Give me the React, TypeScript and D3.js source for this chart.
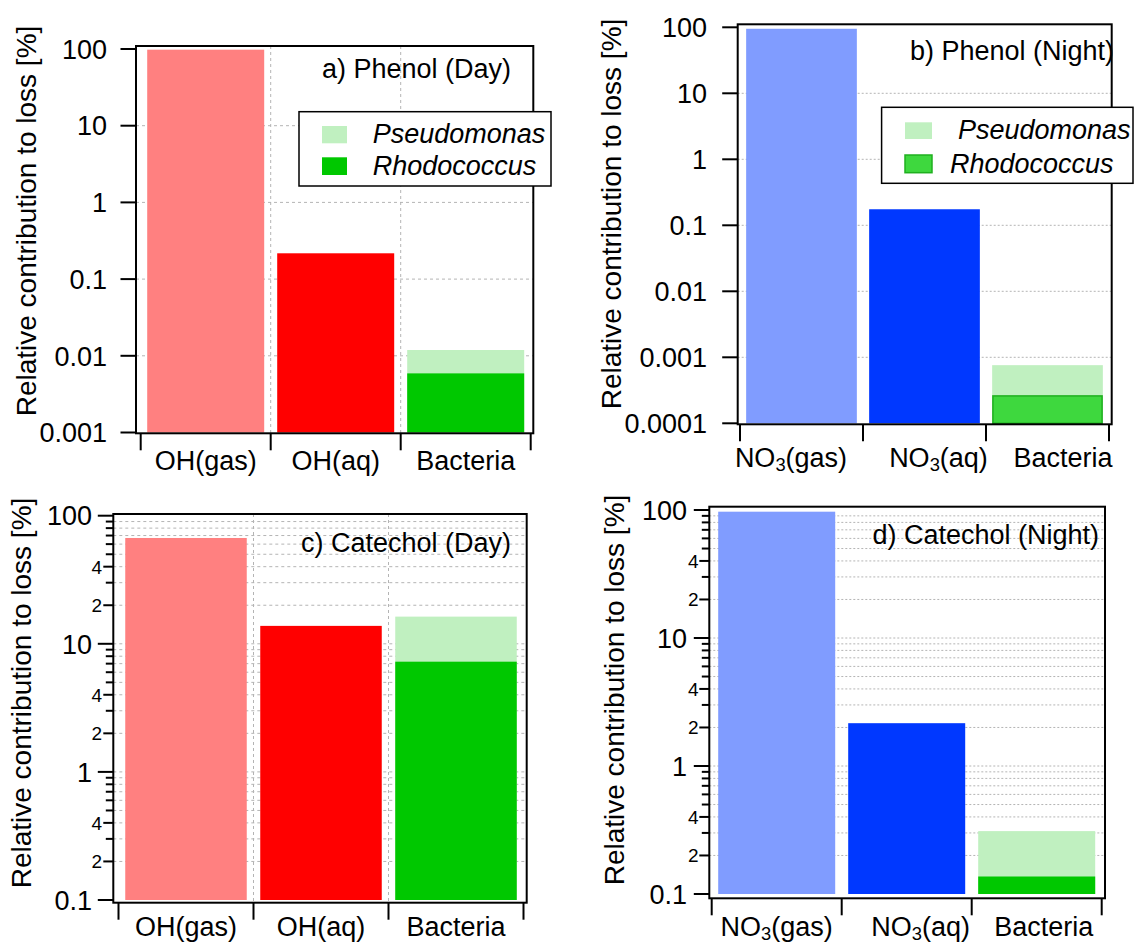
import React from "react";
import * as d3 from "d3";

// ---------- data ----------
const dayCategories = ["OH(gas)", "OH(aq)", "Bacteria"];
const nightCategories = ["NO3(gas)", "NO3(aq)", "Bacteria"];
const legendLabels = ["Pseudomonas", "Rhodococcus"];

const phenolDayOxidant = [98, 0.217];
const phenolDayPseudomonas = 0.0119;
const phenolDayRhodococcus = 0.0059;

const phenolNightOxidant = [95, 0.175];
const phenolNightPseudomonas = 0.00076;
const phenolNightRhodococcus = 0.00026;

const catecholDayOxidant = [67, 13.8];
const catecholDayPseudomonas = 16.3;
const catecholDayRhodococcus = 7.25;

const catecholNightOxidant = [97, 2.16];
const catecholNightPseudomonas = 0.31;
const catecholNightRhodococcus = 0.137;

const labeledMinorDigits = [2, 4];

// ---------- layout / style ----------
const FONT = "'Liberation Sans', Arial, Helvetica, sans-serif";
const YLABEL = "Relative contribution to loss [%]";

type Panel = {
  title: string;
  categories: string[];
  oxidant: number[];
  pseudo: number;
  rhodo: number;
  colors: string[];
  rhodoColor: string;
  rhodoStroke: string | null;
  domain: [number, number];
  yRange: [number, number];
  xRange: [number, number];
  frame: { x0: number; x1: number; y0: number; y1: number };
  minor: boolean;
  vGrid: boolean;
  gridDash: string;
  titlePos: [number, number];
  yLabelPos: [number, number];
  tickLabelX: number;
  minorLabelX: number;
  xLabelY: number;
  xLabelShift: number[];
  legend: null | {
    box: [number, number, number, number];
    swX: [number, number];
    swY: [number, number][];
    textX: number[];
    textY: number[];
  };
};

const panels: Panel[] = [
  {
    title: "a) Phenol (Day)",
    categories: dayCategories,
    oxidant: phenolDayOxidant,
    pseudo: phenolDayPseudomonas,
    rhodo: phenolDayRhodococcus,
    colors: ["#ff8080", "#ff0000"],
    rhodoColor: "#00c800",
    rhodoStroke: null,
    domain: [0.001, 100],
    yRange: [432.5, 49],
    xRange: [140.7, 530.7],
    frame: { x0: 136, x1: 533.3, y0: 46, y1: 433.3 },
    minor: false,
    vGrid: true,
    gridDash: "3,3",
    titlePos: [511, 78],
    yLabelPos: [36, 221],
    tickLabelX: 107,
    minorLabelX: 107,
    xLabelY: 470,
    xLabelShift: [0, 0, 0],
    legend: {
      box: [299, 111.7, 551, 186],
      swX: [322, 347],
      swY: [
        [126, 143.3],
        [157.3, 175],
      ],
      textX: [372.7, 372.7],
      textY: [142.5, 174.5],
    },
  },
  {
    title: "b) Phenol (Night)",
    categories: nightCategories,
    oxidant: phenolNightOxidant,
    pseudo: phenolNightPseudomonas,
    rhodo: phenolNightRhodococcus,
    colors: ["#809cff", "#0038ff"],
    rhodoColor: "#3ed83e",
    rhodoStroke: "#1fb01f",
    domain: [0.0001, 100],
    yRange: [423.3, 27.3],
    xRange: [740, 1109],
    frame: { x0: 737.7, x1: 1111.7, y0: 24.3, y1: 424.3 },
    minor: false,
    vGrid: false,
    gridDash: "2,2",
    titlePos: [1114, 60],
    yLabelPos: [620.5, 214],
    tickLabelX: 707,
    minorLabelX: 707,
    xLabelY: 466.6,
    xLabelShift: [-10.5, 14, 15.5],
    legend: {
      box: [881.6, 107.3, 1133, 183.3],
      swX: [905, 932],
      swY: [
        [122.3, 139],
        [155, 172.7],
      ],
      textX: [958, 950],
      textY: [139.3, 172.6],
    },
  },
  {
    title: "c) Catechol (Day)",
    categories: dayCategories,
    oxidant: catecholDayOxidant,
    pseudo: catecholDayPseudomonas,
    rhodo: catecholDayRhodococcus,
    colors: ["#ff8080", "#ff0000"],
    rhodoColor: "#00c800",
    rhodoStroke: null,
    domain: [0.1, 100],
    yRange: [900, 515.7],
    xRange: [118.5, 523.5],
    frame: { x0: 113.3, x1: 526.7, y0: 514, y1: 902.7 },
    minor: true,
    vGrid: true,
    gridDash: "3,3",
    titlePos: [511, 551.7],
    yLabelPos: [30.5, 693],
    tickLabelX: 92,
    minorLabelX: 102,
    xLabelY: 936,
    xLabelShift: [0, 0, 0],
    legend: null,
  },
  {
    title: "d) Catechol (Night)",
    categories: nightCategories,
    oxidant: catecholNightOxidant,
    pseudo: catecholNightPseudomonas,
    rhodo: catecholNightRhodococcus,
    colors: ["#809cff", "#0038ff"],
    rhodoColor: "#00c800",
    rhodoStroke: null,
    domain: [0.1, 100],
    yRange: [894, 510],
    xRange: [711.7, 1101.7],
    frame: { x0: 709.3, x1: 1105, y0: 506.7, y1: 898.3 },
    minor: true,
    vGrid: false,
    gridDash: "2,2",
    titlePos: [1099, 544],
    yLabelPos: [624, 690],
    tickLabelX: 687,
    minorLabelX: 698.5,
    xLabelY: 935.5,
    xLabelShift: [0, 14, 7],
    legend: null,
  },
];

const PSEUDO_COLOR = "#c0f0c0";

function CatLabel({ text, x, y, size }: { text: string; x: number; y: number; size: number }) {
  const m = text.match(/^NO3(.*)$/);
  if (m) {
    return (
      <text x={x} y={y} fontSize={size} textAnchor="middle" fontFamily={FONT}>
        NO
        <tspan fontSize={size * 0.68} dy={size * 0.16}>
          3
        </tspan>
        <tspan dy={-size * 0.16}>{m[1]}</tspan>
      </text>
    );
  }
  return (
    <text x={x} y={y} fontSize={size} textAnchor="middle" fontFamily={FONT}>
      {text}
    </text>
  );
}

function isDecade(v: number) {
  const l = Math.log10(v);
  return Math.abs(l - Math.round(l)) < 1e-6;
}

function PanelView({ p }: { p: Panel }) {
  const y = d3.scaleLog().domain(p.domain).range(p.yRange);
  const x = d3
    .scaleBand<string>()
    .domain(p.categories)
    .range(p.xRange)
    .paddingInner(0.1)
    .paddingOuter(0.05);
  const step = x.step();
  const allTicks = y.ticks();
  const majors = allTicks.filter(isDecade);
  const minors = p.minor ? allTicks.filter((v) => !isDecade(v)) : [];
  const gridVals = (p.minor ? allTicks : majors).filter(
    (v) => v > p.domain[0] * 1.0001 && v < p.domain[1] * 0.9999
  );
  const f = p.frame;
  const base = y(p.domain[0]);
  const bounds = [0, 1, 2, 3].map((i) => p.xRange[0] + i * step);

  const bars = [
    { cat: p.categories[0], v: p.oxidant[0], fill: p.colors[0], stroke: null as string | null },
    { cat: p.categories[1], v: p.oxidant[1], fill: p.colors[1], stroke: null },
    { cat: p.categories[2], v: p.pseudo, fill: PSEUDO_COLOR, stroke: null },
    { cat: p.categories[2], v: p.rhodo, fill: p.rhodoColor, stroke: p.rhodoStroke },
  ];

  return (
    <g>
      {/* grid */}
      {gridVals.map((v, i) => (
        <line
          key={"hg" + i}
          x1={f.x0}
          x2={f.x1}
          y1={y(v)}
          y2={y(v)}
          stroke="#b4b4b4"
          strokeWidth={1}
          strokeDasharray={p.gridDash}
        />
      ))}
      {p.vGrid &&
        bounds.slice(1, 3).map((bx, i) => (
          <line
            key={"vg" + i}
            x1={bx}
            x2={bx}
            y1={f.y0}
            y2={f.y1}
            stroke="#b4b4b4"
            strokeWidth={1}
            strokeDasharray="3,3"
          />
        ))}
      {/* bars */}
      {bars.map((b, i) => {
        const top = y(b.v);
        return (
          <rect
            key={"b" + i}
            x={(x(b.cat) as number) + (b.stroke ? 0.75 : 0)}
            y={top}
            width={x.bandwidth() - (b.stroke ? 1.5 : 0)}
            height={base - top}
            fill={b.fill}
            stroke={b.stroke || "none"}
            strokeWidth={b.stroke ? 1.5 : 0}
          />
        );
      })}
      {/* frame */}
      <rect
        x={f.x0}
        y={f.y0}
        width={f.x1 - f.x0}
        height={f.y1 - f.y0}
        fill="none"
        stroke="#000"
        strokeWidth={2}
      />
      {/* y major ticks */}
      {majors.map((v, i) => (
        <g key={"yt" + i}>
          <line x1={f.x0 - 15.5} x2={f.x0} y1={y(v)} y2={y(v)} stroke="#000" strokeWidth={2} />
          <text
            x={p.tickLabelX}
            y={y(v)}
            dy="0.36em"
            fontSize={27}
            textAnchor="end"
            fontFamily={FONT}
          >
            {String(+v.toPrecision(1))}
          </text>
        </g>
      ))}
      {/* y minor ticks */}
      {minors.map((v, i) => {
        const digit = Math.round(v / Math.pow(10, Math.floor(Math.log10(v) + 1e-9)));
        const labeled = labeledMinorDigits.includes(digit);
        return (
          <g key={"ym" + i}>
            <line
              x1={f.x0 - (labeled ? 10 : 7.5)}
              x2={f.x0}
              y1={y(v)}
              y2={y(v)}
              stroke="#000"
              strokeWidth={2}
            />
            {labeled && (
              <text
                x={p.minorLabelX}
                y={y(v)}
                dy="0.36em"
                fontSize={19}
                textAnchor="end"
                fontFamily={FONT}
              >
                {digit}
              </text>
            )}
          </g>
        );
      })}
      {/* x ticks */}
      {bounds.map((bx, i) => (
        <line key={"xt" + i} x1={bx} x2={bx} y1={f.y1} y2={f.y1 + 17} stroke="#000" strokeWidth={2} />
      ))}
      {p.categories.map((c, i) => (
        <CatLabel
          key={"xl" + i}
          text={c}
          x={(x(c) as number) + x.bandwidth() / 2 + p.xLabelShift[i]}
          y={p.xLabelY}
          size={27}
        />
      ))}
      {/* y label */}
      <text
        transform={`translate(${p.yLabelPos[0]},${p.yLabelPos[1]}) rotate(-90)`}
        textAnchor="middle"
        fontSize={28}
        fontFamily={FONT}
      >
        {YLABEL}
      </text>
      {/* title */}
      <text x={p.titlePos[0]} y={p.titlePos[1]} fontSize={27} textAnchor="end" fontFamily={FONT}>
        {p.title}
      </text>
      {/* legend */}
      {p.legend && (
        <g>
          <rect
            x={p.legend.box[0]}
            y={p.legend.box[1]}
            width={p.legend.box[2] - p.legend.box[0]}
            height={p.legend.box[3] - p.legend.box[1]}
            fill="#fff"
            stroke="#000"
            strokeWidth={1.5}
          />
          {legendLabels.map((lab, i) => {
            const isRh = i === 1;
            const stroke = isRh ? p.rhodoStroke : null;
            return (
              <g key={"lg" + i}>
                <rect
                  x={p.legend!.swX[0]}
                  y={p.legend!.swY[i][0]}
                  width={p.legend!.swX[1] - p.legend!.swX[0]}
                  height={p.legend!.swY[i][1] - p.legend!.swY[i][0]}
                  fill={isRh ? p.rhodoColor : PSEUDO_COLOR}
                  stroke={stroke || "none"}
                  strokeWidth={stroke ? 1.5 : 0}
                />
                <text
                  x={p.legend!.textX[i]}
                  y={p.legend!.textY[i]}
                  fontSize={27}
                  fontStyle="italic"
                  fontFamily={FONT}
                >
                  {lab}
                </text>
              </g>
            );
          })}
        </g>
      )}
    </g>
  );
}

export default function App() {
  return (
    <svg
      width={1137}
      height={943}
      viewBox="0 0 1137 943"
      style={{ position: "absolute", left: 0, top: 0, background: "#fff" }}
    >
      <rect x={0} y={0} width={1137} height={943} fill="#fff" />
      {panels.map((p, i) => (
        <PanelView key={i} p={p} />
      ))}
    </svg>
  );
}
